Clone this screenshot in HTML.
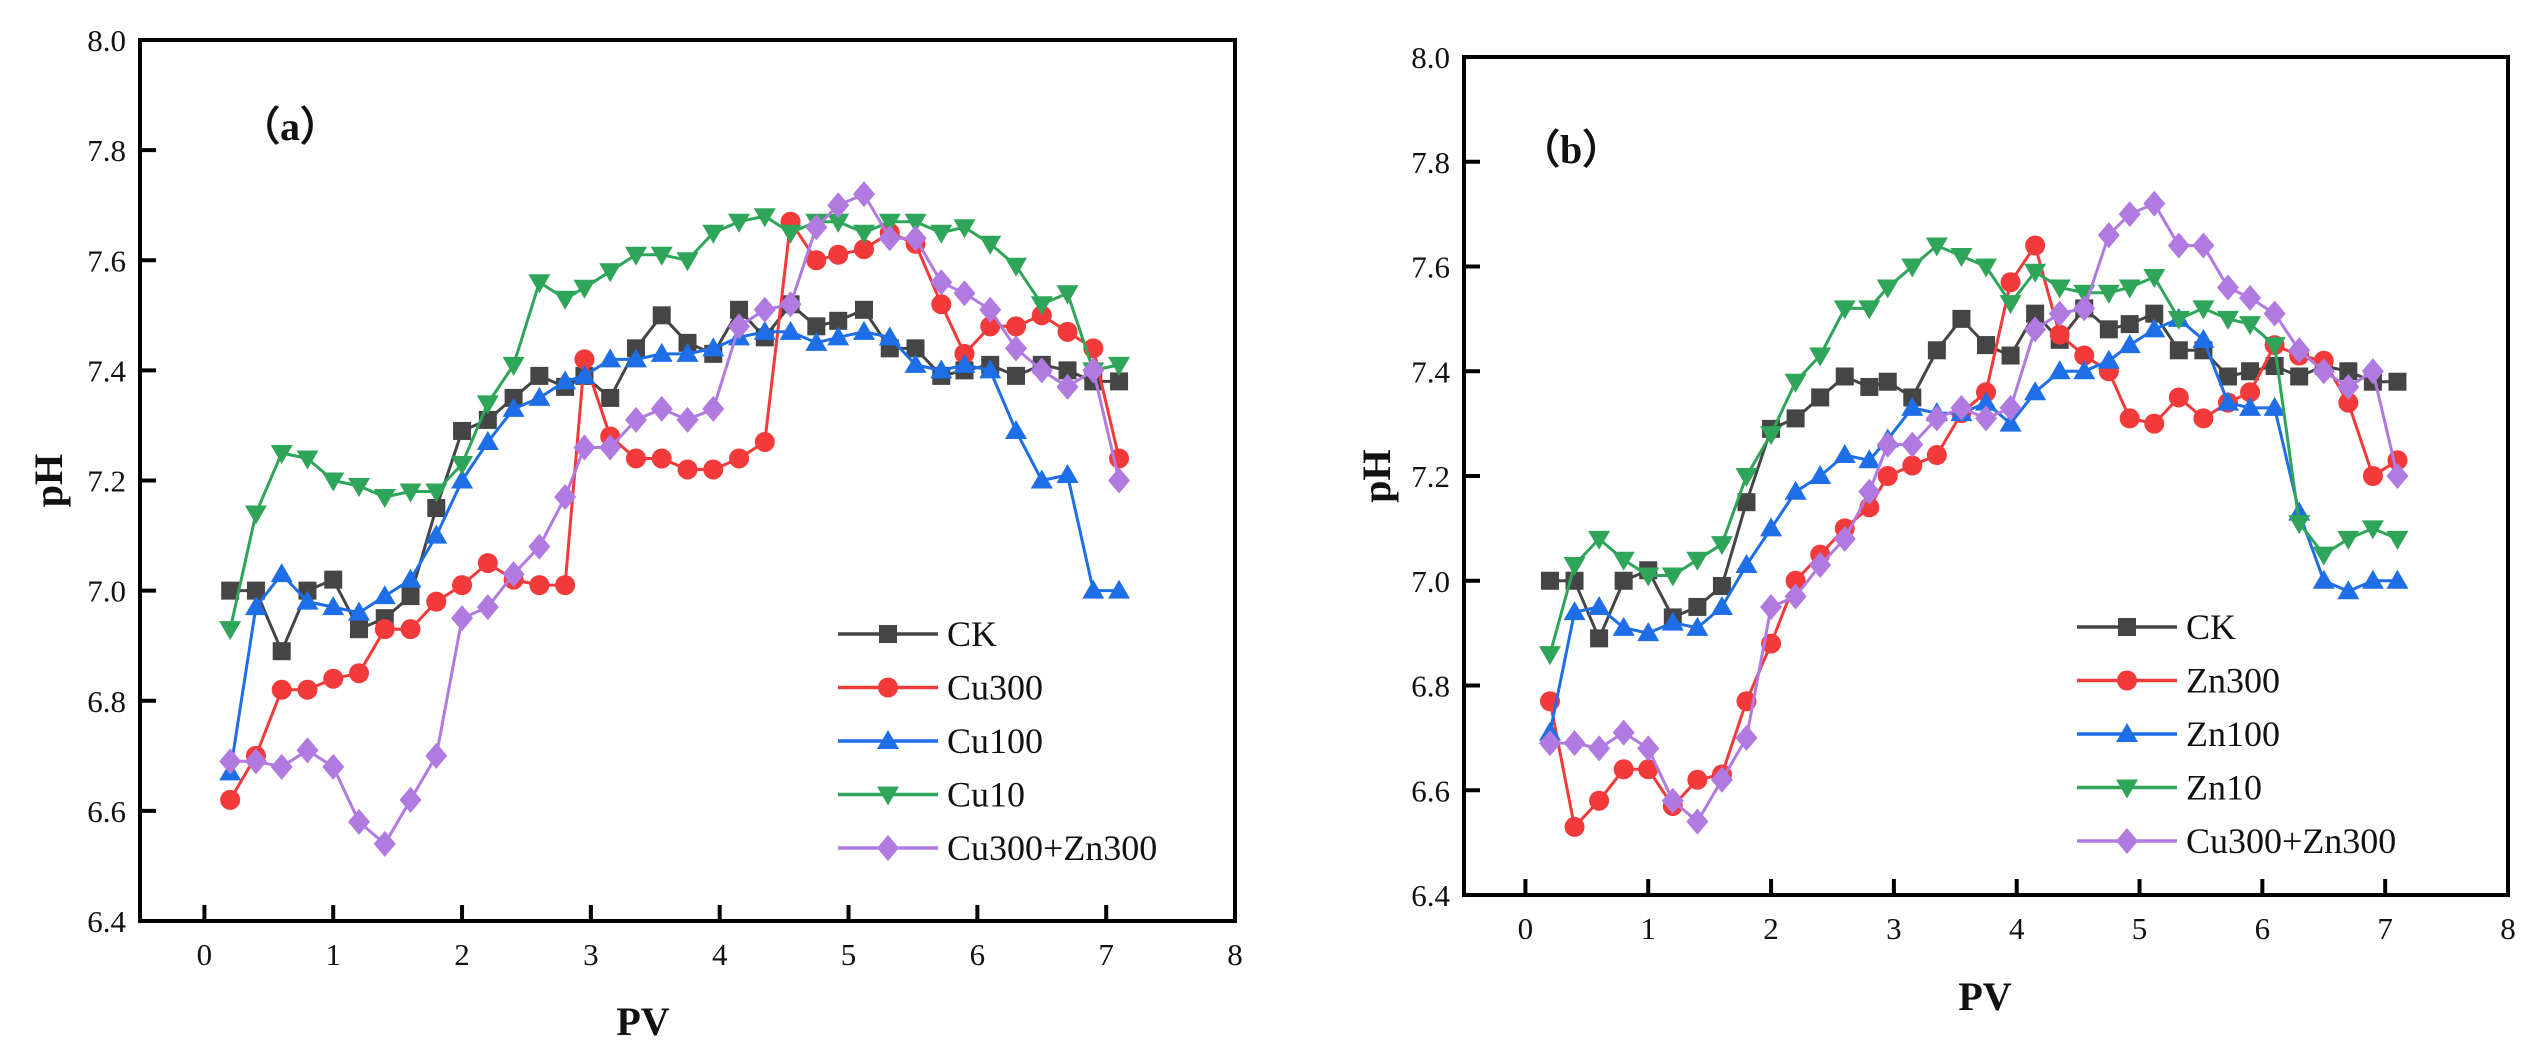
<!DOCTYPE html>
<html><head><meta charset="utf-8"><style>
html,body{margin:0;padding:0;background:#fff;}
svg{display:block;}
text{font-family:"Liberation Serif","Times New Roman",serif;fill:#111;}
</style></head><body>
<svg id="fig" width="2534" height="1050" viewBox="0 0 2534 1050" xmlns="http://www.w3.org/2000/svg"></svg>
<script>
const pvValues = [0.2,0.4,0.6,0.8,1.0,1.2,1.4,1.6,1.8,2.0,2.2,2.4,2.6,2.8,2.95,3.15,3.35,3.55,3.75,3.95,4.15,4.35,4.55,4.75,4.92,5.12,5.32,5.52,5.72,5.9,6.1,6.3,6.5,6.7,6.9,7.1];
const xTicks = [0,1,2,3,4,5,6,7,8];
const yTicks = [6.4,6.6,6.8,7.0,7.2,7.4,7.6,7.8,8.0];
const seriesNamesA = ["CK","Cu300","Cu100","Cu10","Cu300+Zn300"];
const seriesNamesB = ["CK","Zn300","Zn100","Zn10","Cu300+Zn300"];
const ckA = [7.00,7.00,6.89,7.00,7.02,6.93,6.95,6.99,7.15,7.29,7.31,7.35,7.39,7.37,7.39,7.35,7.44,7.50,7.45,7.43,7.51,7.46,7.52,7.48,7.49,7.51,7.44,7.44,7.39,7.40,7.41,7.39,7.41,7.40,7.38,7.38];
const cu300A = [6.62,6.70,6.82,6.82,6.84,6.85,6.93,6.93,6.98,7.01,7.05,7.02,7.01,7.01,7.42,7.28,7.24,7.24,7.22,7.22,7.24,7.27,7.67,7.60,7.61,7.62,7.65,7.63,7.52,7.43,7.48,7.48,7.50,7.47,7.44,7.24];
const cu100A = [6.67,6.97,7.03,6.98,6.97,6.96,6.99,7.02,7.10,7.20,7.27,7.33,7.35,7.38,7.39,7.42,7.42,7.43,7.43,7.44,7.46,7.47,7.47,7.45,7.46,7.47,7.46,7.41,7.40,7.41,7.40,7.29,7.20,7.21,7.00,7.00];
const cu10A = [6.93,7.14,7.25,7.24,7.20,7.19,7.17,7.18,7.18,7.23,7.34,7.41,7.56,7.53,7.55,7.58,7.61,7.61,7.60,7.65,7.67,7.68,7.65,7.67,7.67,7.65,7.67,7.67,7.65,7.66,7.63,7.59,7.52,7.54,7.40,7.41];
const mixA = [6.69,6.69,6.68,6.71,6.68,6.58,6.54,6.62,6.70,6.95,6.97,7.03,7.08,7.17,7.26,7.26,7.31,7.33,7.31,7.33,7.48,7.51,7.52,7.66,7.70,7.72,7.64,7.64,7.56,7.54,7.51,7.44,7.40,7.37,7.40,7.20];
const ckB = [7.00,7.00,6.89,7.00,7.02,6.93,6.95,6.99,7.15,7.29,7.31,7.35,7.39,7.37,7.38,7.35,7.44,7.50,7.45,7.43,7.51,7.46,7.52,7.48,7.49,7.51,7.44,7.44,7.39,7.40,7.41,7.39,7.41,7.40,7.38,7.38];
const zn300B = [6.77,6.53,6.58,6.64,6.64,6.57,6.62,6.63,6.77,6.88,7.00,7.05,7.10,7.14,7.20,7.22,7.24,7.32,7.36,7.57,7.64,7.47,7.43,7.40,7.31,7.30,7.35,7.31,7.34,7.36,7.45,7.43,7.42,7.34,7.20,7.23];
const zn100B = [6.71,6.94,6.95,6.91,6.90,6.92,6.91,6.95,7.03,7.10,7.17,7.20,7.24,7.23,7.27,7.33,7.32,7.32,7.34,7.30,7.36,7.40,7.40,7.42,7.45,7.48,7.50,7.46,7.34,7.33,7.33,7.13,7.00,6.98,7.00,7.00];
const zn10B = [6.86,7.03,7.08,7.04,7.01,7.01,7.04,7.07,7.20,7.28,7.38,7.43,7.52,7.52,7.56,7.60,7.64,7.62,7.60,7.53,7.59,7.56,7.55,7.55,7.56,7.58,7.50,7.52,7.50,7.49,7.45,7.11,7.05,7.08,7.10,7.08];
const mixB = [6.69,6.69,6.68,6.71,6.68,6.58,6.54,6.62,6.70,6.95,6.97,7.03,7.08,7.17,7.26,7.26,7.31,7.33,7.31,7.33,7.48,7.51,7.52,7.66,7.70,7.72,7.64,7.64,7.56,7.54,7.51,7.44,7.40,7.37,7.40,7.20];

const colors = ["#454545","#f23a3a","#1e6ee8","#2fa55a","#b07ae0"];
const markers = ["square","circle","up","down","diamond"];
const NS = "http://www.w3.org/2000/svg";
const svg = document.getElementById('fig');
function mk(tag, attrs, parent){const e=document.createElementNS(NS,tag);for(const k in attrs)e.setAttribute(k,attrs[k]);(parent||svg).appendChild(e);return e;}

function marker(g, type, cx, cy, color){
  let e;
  if(type==="square") e=mk('rect',{x:cx-9,y:cy-9,width:18,height:18,fill:color},g);
  else if(type==="circle") e=mk('circle',{cx:cx,cy:cy,r:10,fill:color},g);
  else if(type==="up") e=mk('polygon',{points:`${cx},${cy-11} ${cx+11},${cy+8} ${cx-11},${cy+8}`,fill:color},g);
  else if(type==="down") e=mk('polygon',{points:`${cx},${cy+11} ${cx+11},${cy-8} ${cx-11},${cy-8}`,fill:color},g);
  else e=mk('polygon',{points:`${cx},${cy-13} ${cx+11},${cy} ${cx},${cy+13} ${cx-11},${cy}`,fill:color},g);
  
  
}

function drawChart(cfg){
  const {L,R,T,B,id,label,labelX,labelY,series,names,legX,legY,pvX,pvY,phX} = cfg;
  const xs = v => L + (v+0.5)/8.5*(R-L);
  const ys = v => B - (v-6.4)/1.6*(B-T);
  const g = mk('g',{});
  
  
  // series
  series.forEach((vals,si)=>{
    const sg = mk('g',{},g);
    
    
    const pts = vals.map((v,i)=>xs(pvValues[i]).toFixed(1)+','+ys(v).toFixed(1)).join(' ');
    const pl = mk('polyline',{points:pts,fill:'none',stroke:colors[si],'stroke-width':3,'stroke-linejoin':'round'},sg);
    
    
    vals.forEach((v,i)=>marker(sg,markers[si],xs(pvValues[i]),ys(v),colors[si]));
  });
  // frame
  const fr = mk('rect',{x:L,y:T,width:R-L,height:B-T,fill:'none',stroke:'#000','stroke-width':4},g);
  
  
  // x ticks
  xTicks.forEach(t=>{
    const x=xs(t);
    if(t<8){const tk=mk('line',{x1:x,y1:B,x2:x,y2:B-16,stroke:'#000','stroke-width':4},g);
    }
    const tx=mk('text',{x:x,y:B+44,'font-size':31,'text-anchor':'middle'},g);
    tx.textContent=t;
    
    
  });
  yTicks.forEach(t=>{
    const y=ys(t);
    if(t>6.41 && t<7.99){const tk=mk('line',{x1:L,y1:y,x2:L+16,y2:y,stroke:'#000','stroke-width':4},g);
    }
    const tx=mk('text',{x:L-14,y:y+11,'font-size':31,'text-anchor':'end'},g);
    tx.textContent=t.toFixed(1);
    
    
  });
  const pv=mk('text',{x:pvX,y:pvY,'font-size':40,'font-weight':'bold','text-anchor':'middle'},g);
  pv.textContent='PV';
  
  
  const cy=(T+B)/2;
  const ph=mk('text',{x:phX,y:cy,'font-size':40,'font-weight':'bold','text-anchor':'middle',transform:`rotate(-90 ${phX} ${cy})`},g);
  ph.textContent='pH';
  
  
  const pl=mk('text',{x:labelX,y:labelY,'font-size':40,'font-weight':'bold'},g);
  pl.textContent=label;
  
  
  // legend
  const lg=mk('g',{},g);
  
  
  names.forEach((n,i)=>{
    const y=legY+i*53.5;
    const eg=mk('g',{},lg);
    
    
    mk('line',{x1:legX,y1:y,x2:legX+100,y2:y,stroke:colors[i],'stroke-width':3.5},eg);
    marker(eg,markers[i],legX+50,y,colors[i]);
    const t=mk('text',{x:legX+109,y:y+12,'font-size':36},eg);
    t.textContent=n;
  });
}

drawChart({L:140,R:1235,T:40,B:921,id:'a',label:'（a）',labelX:240,labelY:140,
  series:[ckA,cu300A,cu100A,cu10A,mixA],names:seriesNamesA,legX:838,legY:634,pvX:643,pvY:1035,phX:62});
drawChart({L:1464,R:2508,T:57,B:895,id:'b',label:'（b）',labelX:1520,labelY:163,
  series:[ckB,zn300B,zn100B,zn10B,mixB],names:seriesNamesB,legX:2077,legY:627,pvX:1985,pvY:1010,phX:1390});
</script>
</body></html>
